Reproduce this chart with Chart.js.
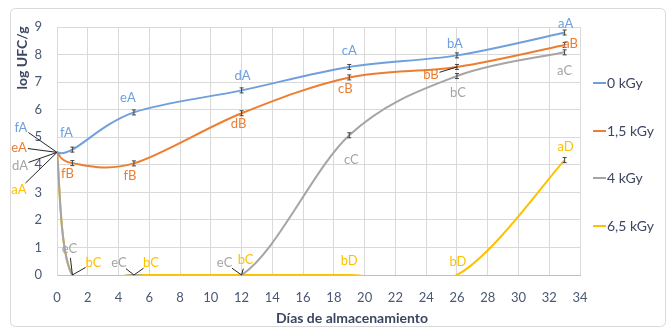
<!DOCTYPE html>
<html>
<head>
<meta charset="utf-8">
<script src="https://cdn.jsdelivr.net/npm/chart.js@4"></script>
<style>
  html, body { margin: 0; padding: 0; background: #fff; }
  #wrap { width: 672px; height: 329px; }
</style>
</head>
<body>
<div id="wrap"><canvas id="growthChart"></canvas></div>
<script>
// storage days and log counts for each irradiation dose
const days = [0, 1, 5, 12, 19, 26, 33];
const dose0 = [4.45, 4.55, 5.9, 6.7, 7.55, 7.97, 8.8];
const dose15 = [4.45, 4.06, 4.05, 5.87, 7.17, 7.55, 8.35];
const dose4 = [4.45, 0, 0, 0, 5.07, 7.22, 8.08];
const dose65 = [4.45, 0, 0, 0, 0, 0, 4.17];
const doseNames = ['0 kGy', '1,5 kGy', '4 kGy', '6,5 kGy'];

// significance letters next to each point
const letters0 = ['fA', 'fA', 'eA', 'dA', 'cA', 'bA', 'aA'];
const letters15 = ['eA', 'fB', 'fB', 'dB', 'cB', 'bB', 'aB'];
const letters4 = ['dA', 'eC', 'eC', 'eC', 'cC', 'bC', 'aC'];
const letters65 = ['aA', 'bC', 'bC', 'bC', 'bD', 'bD', 'aD'];

const xTicks = [0, 2, 4, 6, 8, 10, 12, 14, 16, 18, 20, 22, 24, 26, 28, 30, 32, 34];
const yTicks = [0, 1, 2, 3, 4, 5, 6, 7, 8, 9];

const colors = ['#6fa0dc', '#ed7d31', '#a5a5a5', '#ffc000'];
const font = 'Lato, "Open Sans", sans-serif';
const tickColor = '#4a5873';

// label placement: [dx, dy, leader line?] in pixels from the point
const labelPos = [
  [[-36, -25, 1], [-6, -17, 0], [-6, -15, 0], [1, -15, 0], [0, -16, 0], [-2, -12, 0], [1, -9, 0]],
  [[-38, -5, 1], [-5, 11, 0], [-4, 12, 0], [-3, 11, 0], [-4, 11, 0], [-26, 8, 1], [6, -1, 0]],
  [[-37, 13, 1], [-3, -26, 1], [-15, -12, 1], [-17, -12, 1], [2, 25, 0], [1, 17, 0], [0, 18, 0]],
  [[-38, 37, 1], [21, -12, 1], [17, -12, 1], [4, -15, 1], [0, -14, 0], [1, -13, 0], [1, -13, 0]]
];
const allLetters = [letters0, letters15, letters4, letters65];

const toPoints = vals => days.map((d, i) => ({ x: d, y: vals[i] }));

// Excel-style smoothing: control points at +-1/6 of the neighbour chord
const excelSmooth = {
  id: 'excelSmooth',
  beforeDatasetsDraw(chart) {
    chart.data.datasets.forEach((ds, di) => {
      const meta = chart.getDatasetMeta(di);
      const pts = meta.data;
      const n = pts.length;
      for (let i = 0; i < n; i++) {
        const a = pts[Math.max(i - 1, 0)], p = pts[i], b = pts[Math.min(i + 1, n - 1)];
        const dx = (b.x - a.x) / 6, dy = (b.y - a.y) / 6;
        p.cp1x = p.x - dx; p.cp1y = p.y - dy;
        p.cp2x = p.x + dx; p.cp2y = p.y + dy;
      }
      meta.dataset._pointsUpdated = true;
      meta.dataset._path = undefined;
    });
  }
};

const frame = {
  id: 'frame',
  beforeDraw(chart) {
    const c = chart.ctx;
    c.save();
    c.fillStyle = '#fff';
    c.fillRect(0, 0, chart.width, chart.height);
    c.strokeStyle = '#d9d9d9';
    c.lineWidth = 1;
    c.beginPath();
    c.roundRect(10.5, 8.5, 655, 318, 5);
    c.stroke();
    c.restore();
  },
  afterDatasetsDraw(chart) {
    const c = chart.ctx;
    const xs = chart.scales.x, ys = chart.scales.y;
    c.save();
    // small whiskers at the points
    chart.data.datasets.forEach((ds, di) => {
      ds.data.forEach((p, i) => {
        if (i === 0 || p.y === 0) return;
        const px = xs.getPixelForValue(p.x), py = ys.getPixelForValue(p.y);
        c.strokeStyle = '#404040';
        c.lineWidth = 1;
        c.beginPath();
        c.moveTo(px, py - 2.5); c.lineTo(px, py + 2.5);
        c.moveTo(px - 2, py - 2.5); c.lineTo(px + 2, py - 2.5);
        c.moveTo(px - 2, py + 2.5); c.lineTo(px + 2, py + 2.5);
        c.stroke();
      });
    });
    // letters and leader lines
    c.font = '13px ' + font;
    c.textAlign = 'center';
    c.textBaseline = 'middle';
    chart.data.datasets.forEach((ds, di) => {
      ds.data.forEach((p, i) => {
        const px = xs.getPixelForValue(p.x), py = ys.getPixelForValue(p.y);
        const [dx, dy, leader] = labelPos[di][i];
        const lx = px + dx, ly = py + dy;
        if (leader) {
          const len = Math.hypot(dx, dy);
          const r = Math.min(9, len - 2);
          c.strokeStyle = '#262626';
          c.lineWidth = 1;
          c.beginPath();
          c.moveTo(lx - dx / len * r, ly - dy / len * r);
          c.lineTo(px, py);
          c.stroke();
        }
        c.fillStyle = colors[di];
        c.fillText(allLetters[di][i], lx, ly);
      });
    });
    c.restore();
  },
  afterDraw(chart) {
    const c = chart.ctx;
    c.save();
    c.fillStyle = '#3b4660';
    c.font = 'bold 14px ' + font;
    c.textAlign = 'center';
    c.textBaseline = 'middle';
    c.fillText('Días de almacenamiento', 352, 318);
    c.translate(22, 58);
    c.rotate(-Math.PI / 2);
    c.fillText('log UFC/g', 0, 0);
    c.restore();

    // legend
    c.save();
    c.font = '14px ' + font;
    c.textBaseline = 'middle';
    c.textAlign = 'left';
    const legendY = [83, 131, 178, 226];
    doseNames.forEach((name, i) => {
      c.strokeStyle = colors[i];
      c.lineWidth = 2;
      c.beginPath();
      c.moveTo(593, legendY[i]);
      c.lineTo(606, legendY[i]);
      c.stroke();
      c.fillStyle = '#3b4660';
      c.fillText(name, 607, legendY[i]);
    });
    c.restore();
  }
};

const ctx = document.getElementById('growthChart').getContext('2d');

new Chart(ctx, {
  type: 'line',
  data: {
    datasets: [dose0, dose15, dose4, dose65].map((vals, i) => ({
      label: doseNames[i],
      data: toPoints(vals),
      borderColor: colors[i],
      backgroundColor: colors[i],
      borderWidth: 2,
      pointRadius: 0,
      tension: 0.4,
      fill: false
    }))
  },
  options: {
    responsive: true,
    maintainAspectRatio: false,
    animation: false,
    elements: { line: { capBezierPoints: false } },
    layout: { padding: { left: 12, right: 92, top: 27, bottom: 10 } },
    plugins: {
      legend: { display: false },
      tooltip: { enabled: false }
    },
    scales: {
      x: {
        type: 'linear',
        min: 0,
        max: 34,
        afterBuildTicks: s => { s.ticks = xTicks.map(v => ({ value: v })); },
        afterFit: s => { s.height = 44; },
        grid: { color: '#d9d9d9', drawTicks: false },
        border: { color: '#bfbfbf' },
        ticks: { padding: 15, color: tickColor, font: { family: font, size: 13 } }
      },
      y: {
        min: 0,
        max: 9,
        afterBuildTicks: s => { s.ticks = yTicks.map(v => ({ value: v })); },
        afterFit: s => { s.width = 45; },
        grid: { color: '#d9d9d9', drawTicks: false },
        border: { color: '#d9d9d9' },
        ticks: { padding: 15, color: tickColor, font: { family: font, size: 13 } }
      }
    }
  },
  plugins: [excelSmooth, frame]
});
</script>
</body>
</html>
